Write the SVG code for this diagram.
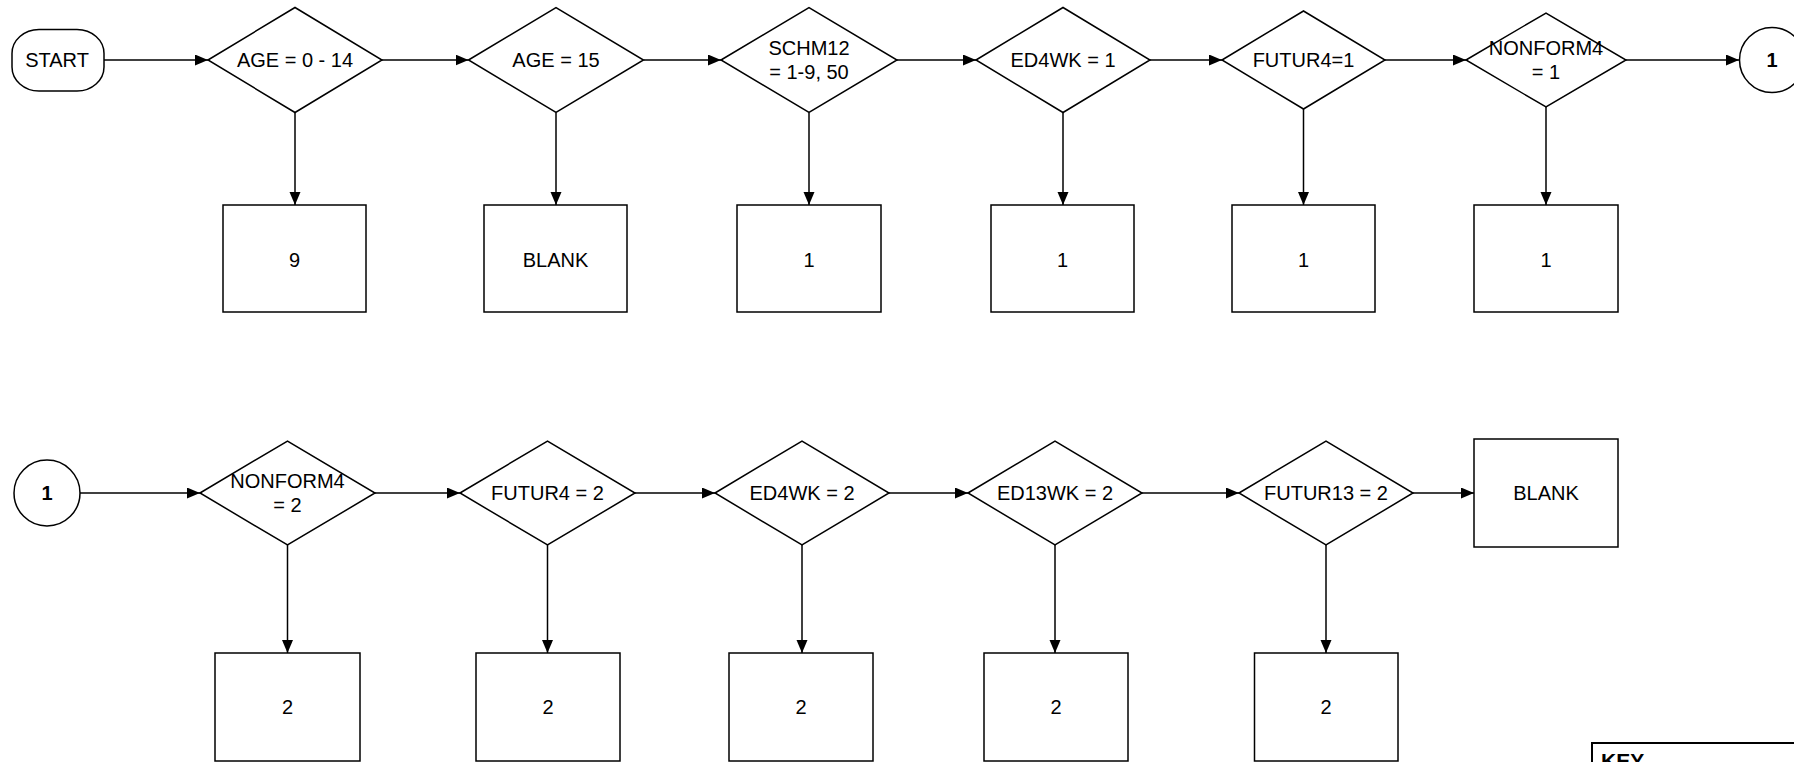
<svg xmlns="http://www.w3.org/2000/svg" width="1794" height="762" viewBox="0 0 1794 762">
<defs>
<marker id="arr" markerUnits="userSpaceOnUse" markerWidth="14" markerHeight="12" refX="13" refY="5.5" orient="auto">
<path d="M0,0 L13,5.5 L0,11 z" fill="#000"/>
</marker>
<style>
.s{fill:#fff;stroke:#000;stroke-width:1.5}
.t{font-family:"Liberation Sans",Arial,sans-serif;font-size:20px;fill:#000;text-anchor:middle}
.b{font-weight:bold}
.c line{stroke:#000;stroke-width:1.5;marker-end:url(#arr)}
</style>
</defs>
<rect width="1794" height="762" fill="#fff"/>
<g class="c" id="connectors">
<line x1="104" y1="60" x2="208" y2="60"/>
<line x1="382" y1="60" x2="468.5" y2="60"/>
<line x1="643.5" y1="60" x2="721" y2="60"/>
<line x1="897" y1="60" x2="976" y2="60"/>
<line x1="1150" y1="60" x2="1222" y2="60"/>
<line x1="1385" y1="60" x2="1466" y2="60"/>
<line x1="1626" y1="60" x2="1739" y2="60"/>
<line x1="295" y1="112.5" x2="295" y2="205"/>
<line x1="556" y1="112.5" x2="556" y2="205"/>
<line x1="809" y1="112.5" x2="809" y2="205"/>
<line x1="1063" y1="112.5" x2="1063" y2="205"/>
<line x1="1303.5" y1="109" x2="1303.5" y2="205"/>
<line x1="1546" y1="107" x2="1546" y2="205"/>
<line x1="80" y1="493" x2="200" y2="493"/>
<line x1="375" y1="493" x2="460" y2="493"/>
<line x1="635" y1="493" x2="715" y2="493"/>
<line x1="889" y1="493" x2="968" y2="493"/>
<line x1="1142" y1="493" x2="1239" y2="493"/>
<line x1="1413" y1="493" x2="1474" y2="493"/>
<line x1="287.5" y1="545" x2="287.5" y2="653"/>
<line x1="547.5" y1="545" x2="547.5" y2="653"/>
<line x1="802" y1="545" x2="802" y2="653"/>
<line x1="1055" y1="545" x2="1055" y2="653"/>
<line x1="1326" y1="545" x2="1326" y2="653"/>
</g>
<g id="start"><rect class="s" x="12" y="29.5" width="92" height="61.5" rx="27" ry="24"/><text class="t" x="57" y="67">START</text></g>
<g id="d1"><polygon class="s" points="208,60 295,7.5 382,60 295,112.5"/><text class="t" x="295" y="67">AGE = 0 - 14</text></g>
<g id="d2"><polygon class="s" points="468.5,60 556,7.5 643.5,60 556,112.5"/><text class="t" x="556" y="67">AGE = 15</text></g>
<g id="d3"><polygon class="s" points="721,60 809,7.5 897,60 809,112.5"/><text class="t" x="809" y="55">SCHM12</text><text class="t" x="809" y="79">= 1-9, 50</text></g>
<g id="d4"><polygon class="s" points="976,60 1063,7.5 1150,60 1063,112.5"/><text class="t" x="1063" y="67">ED4WK = 1</text></g>
<g id="d5"><polygon class="s" points="1222,60 1303.5,11 1385,60 1303.5,109"/><text class="t" x="1303.5" y="67">FUTUR4=1</text></g>
<g id="d6"><polygon class="s" points="1466,60 1546,13 1626,60 1546,107"/><text class="t" x="1546" y="55">NONFORM4</text><text class="t" x="1546" y="79">= 1</text></g>
<g id="conn1a"><circle class="s" cx="1772" cy="60" r="32.5"/><text class="t b" x="1772" y="67">1</text></g>
<g id="b1"><rect class="s" x="223" y="205" width="143" height="107"/><text class="t" x="294.5" y="266.5">9</text></g>
<g id="b2"><rect class="s" x="484" y="205" width="143" height="107"/><text class="t" x="555.5" y="266.5">BLANK</text></g>
<g id="b3"><rect class="s" x="737" y="205" width="144" height="107"/><text class="t" x="809" y="266.5">1</text></g>
<g id="b4"><rect class="s" x="991" y="205" width="143" height="107"/><text class="t" x="1062.5" y="266.5">1</text></g>
<g id="b5"><rect class="s" x="1232" y="205" width="143" height="107"/><text class="t" x="1303.5" y="266.5">1</text></g>
<g id="b6"><rect class="s" x="1474" y="205" width="144" height="107"/><text class="t" x="1546" y="266.5">1</text></g>
<g id="conn1b"><circle class="s" cx="47" cy="493" r="33"/><text class="t b" x="47" y="500">1</text></g>
<g id="d7"><polygon class="s" points="200,493 287.5,441 375,493 287.5,545"/><text class="t" x="287.5" y="488">NONFORM4</text><text class="t" x="287.5" y="512">= 2</text></g>
<g id="d8"><polygon class="s" points="460,493 547.5,441 635,493 547.5,545"/><text class="t" x="547.5" y="500">FUTUR4 = 2</text></g>
<g id="d9"><polygon class="s" points="715,493 802,441 889,493 802,545"/><text class="t" x="802" y="500">ED4WK = 2</text></g>
<g id="d10"><polygon class="s" points="968,493 1055,441 1142,493 1055,545"/><text class="t" x="1055" y="500">ED13WK = 2</text></g>
<g id="d11"><polygon class="s" points="1239,493 1326,441 1413,493 1326,545"/><text class="t" x="1326" y="500">FUTUR13 = 2</text></g>
<g id="b7"><rect class="s" x="1474" y="439" width="144" height="108"/><text class="t" x="1546" y="500">BLANK</text></g>
<g id="b8"><rect class="s" x="215" y="653" width="145" height="108"/><text class="t" x="287.5" y="714">2</text></g>
<g id="b9"><rect class="s" x="476" y="653" width="144" height="108"/><text class="t" x="548" y="714">2</text></g>
<g id="b10"><rect class="s" x="729" y="653" width="144" height="108"/><text class="t" x="801" y="714">2</text></g>
<g id="b11"><rect class="s" x="984" y="653" width="144" height="108"/><text class="t" x="1056" y="714">2</text></g>
<g id="b12"><rect class="s" x="1254.5" y="653" width="143.5" height="108"/><text class="t" x="1326" y="714">2</text></g>
<g id="key"><rect x="1592" y="743" width="260" height="100" fill="#fff" stroke="#000" stroke-width="2"/><text x="1601" y="768" style="font-family:'Liberation Sans',Arial,sans-serif;font-size:21px;font-weight:bold">KEY</text></g>
</svg>
